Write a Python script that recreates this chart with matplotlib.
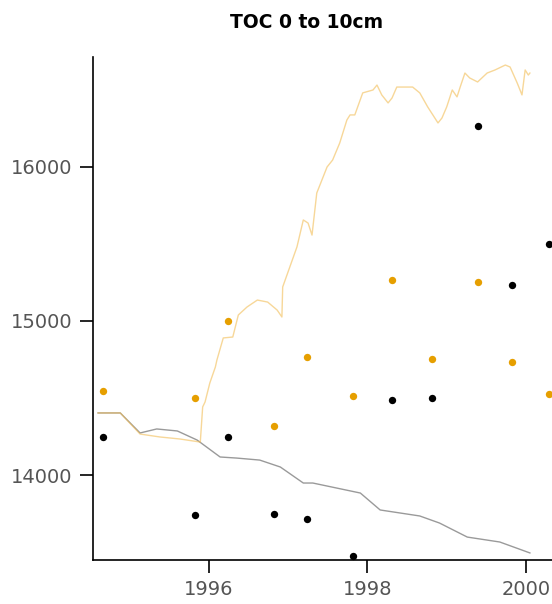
import numpy as np
import matplotlib
matplotlib.use("Agg")
import matplotlib.pyplot as plt

# observed values (orange = one plot, black = another)
obs_years = [1994.66, 1995.82, 1996.24, 1996.82, 1997.24, 1997.82,
             1998.31, 1998.81, 1999.39, 1999.82, 2000.29]
obs_orange = [14545, 14500, 15000, 14318, 14766, 14513,
              15266, 14753, 15253, 14734, 14526]
obs_black = [14247, 13740, 14247, 13747, 13714, 13474,
             14487, 14500, 16266, 15234, 15500]

# simulated series
grey_years = [1994.60, 1994.88, 1995.13, 1995.34, 1995.60, 1995.85, 1996.14,
              1996.35, 1996.64, 1996.90, 1997.19, 1997.31, 1997.91, 1998.16,
              1998.66, 1998.91, 1999.26, 1999.67, 2000.05]
grey_vals = [14403, 14403, 14273, 14299, 14286, 14227, 14117,
             14110, 14097, 14052, 13948, 13948, 13883, 13773,
             13734, 13688, 13597, 13565, 13494]

orange_years = [1994.60, 1994.88, 1995.13, 1995.38, 1995.63, 1995.89, 1995.92,
                1995.95, 1996.01, 1996.08, 1996.10, 1996.18, 1996.30, 1996.37,
                1996.48, 1996.61, 1996.74, 1996.86, 1996.92, 1996.93, 1997.02,
                1997.11, 1997.19, 1997.25, 1997.30, 1997.36, 1997.49, 1997.56,
                1997.65, 1997.74, 1997.78, 1997.84, 1997.94, 1998.07, 1998.12,
                1998.18, 1998.26, 1998.31, 1998.37, 1998.57, 1998.66, 1998.76,
                1998.89, 1998.94, 1999.00, 1999.07, 1999.13, 1999.17, 1999.23,
                1999.29, 1999.39, 1999.51, 1999.61, 1999.74, 1999.80, 1999.89,
                1999.95, 1999.99, 2000.03, 2000.05]
orange_vals = [14403, 14403, 14266, 14247, 14234, 14214, 14442,
               14474, 14597, 14701, 14747, 14890, 14896, 15039,
               15091, 15136, 15123, 15071, 15026, 15221, 15351,
               15481, 15656, 15636, 15558, 15831, 16000, 16045,
               16156, 16305, 16338, 16338, 16481, 16500, 16532,
               16468, 16416, 16448, 16519, 16519, 16481, 16390,
               16286, 16318, 16390, 16500, 16455, 16519, 16610,
               16578, 16552, 16610, 16630, 16662, 16649, 16545,
               16468, 16630, 16597, 16610]

fig = plt.figure(figsize=(5.52, 6.04), dpi=100)
ax = fig.add_axes([0.1685, 0.0728, 0.873, 0.8328])

ax.plot(grey_years, grey_vals, color="#9a9a9a", lw=1.0)
ax.plot(orange_years, orange_vals, color="#f2bd55", lw=1.0, alpha=0.6)
ax.scatter(obs_years, obs_orange, s=28, color="#E69F00", zorder=3, lw=0)
ax.scatter(obs_years, obs_black, s=28, color="black", zorder=3, lw=0)

ax.set_xlim(1994.536, 2000.618)
ax.set_ylim(13448, 16714)
ax.set_xticks([1996, 1998, 2000])
ax.set_yticks([14000, 15000, 16000])
ax.tick_params(direction="out", length=9.5, width=1.2, labelsize=14,
               labelcolor="#555555", pad=5)
for s in ["top", "right"]:
    ax.spines[s].set_visible(False)
for s in ["left", "bottom"]:
    ax.spines[s].set_linewidth(1.2)

fig.text(307 / 552, 1 - 22 / 604, "TOC 0 to 10cm", ha="center", va="center",
         fontsize=13.5, fontweight="bold")

fig.savefig("out.png", dpi=100)
